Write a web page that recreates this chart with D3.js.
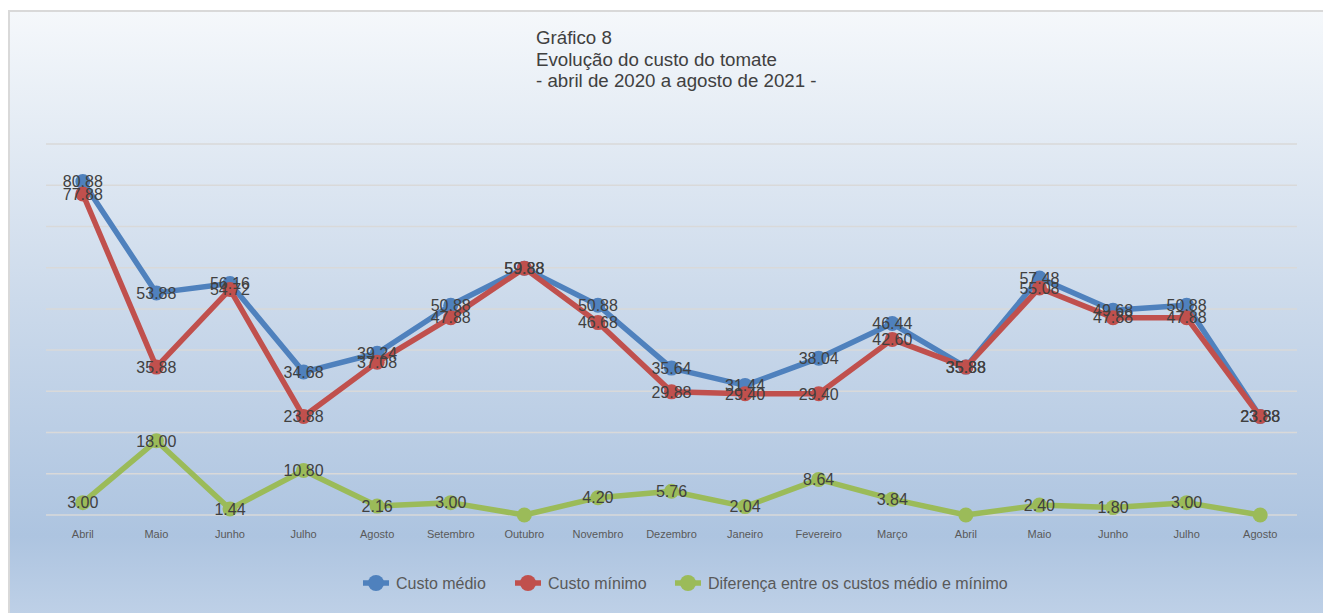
<!DOCTYPE html>
<html>
<head>
<meta charset="utf-8">
<script src="https://cdn.jsdelivr.net/npm/d3@7"></script>
<style>
  body { margin: 0; background: #fff; }
  svg { display: block; font-family: "Liberation Sans", Arial, sans-serif; }
</style>
</head>
<body>
<svg id="chart"></svg>
<script>
// month labels, april 2020 to august 2021
const months = ['Abril', 'Maio', 'Junho', 'Julho', 'Agosto', 'Setembro', 'Outubro', 'Novembro',
  'Dezembro', 'Janeiro', 'Fevereiro', 'Março', 'Abril', 'Maio', 'Junho', 'Julho', 'Agosto'];
const custoMedio = [80.88, 53.88, 56.16, 34.68, 39.24, 50.88, 59.88, 50.88, 35.64, 31.44, 38.04, 46.44, 35.88, 57.48, 49.68, 50.88, 23.88];
const custoMinimo = [77.88, 35.88, 54.72, 23.88, 37.08, 47.88, 59.88, 46.68, 29.88, 29.40, 29.40, 42.60, 35.88, 55.08, 47.88, 47.88, 23.88];
const diferenca = [3.00, 18.00, 1.44, 10.80, 2.16, 3.00, 0, 4.20, 5.76, 2.04, 8.64, 3.84, 0, 2.40, 1.80, 3.00, 0];
const yTicks = [0, 10, 20, 30, 40, 50, 60, 70, 80, 90];
const titleLines = ['Gráfico 8', 'Evolução do custo do tomate', '- abril de 2020 a agosto de 2021 -'];

const series = [
  { name: 'Custo médio', values: custoMedio, color: '#4f81bd' },
  { name: 'Custo mínimo', values: custoMinimo, color: '#c0504d' },
  { name: 'Diferença entre os custos médio e mínimo', values: diferenca, color: '#9bbb59' }
];

const width = 1323, height = 613;
const margin = { top: 144, right: 26, bottom: 98, left: 46 };

const svg = d3.select('#chart').attr('width', width).attr('height', height);

// background gradient
const defs = svg.append('defs');
const grad = defs.append('linearGradient').attr('id', 'bg')
  .attr('x1', 0).attr('y1', 0).attr('x2', 0).attr('y2', 1);
grad.append('stop').attr('offset', '0%').attr('stop-color', '#f5f8fb');
grad.append('stop').attr('offset', '45%').attr('stop-color', '#ccdaeb');
grad.append('stop').attr('offset', '82%').attr('stop-color', '#adc4e0');
grad.append('stop').attr('offset', '100%').attr('stop-color', '#c6d6ea');

svg.append('rect')
  .attr('x', 9).attr('y', 11)
  .attr('width', 1400).attr('height', 640)
  .attr('fill', 'url(#bg)')
  .attr('stroke', '#d9d9d9')
  .attr('stroke-width', 2);

// title
svg.append('text')
  .attr('x', 536).attr('y', 44)
  .attr('font-size', 18.7)
  .attr('fill', '#404040')
  .selectAll('tspan')
  .data(titleLines)
  .join('tspan')
  .attr('x', 536)
  .attr('dy', (d, i) => i === 0 ? 0 : 21.5)
  .text(d => d);

const x = d3.scaleBand()
  .domain(d3.range(months.length))
  .range([margin.left, width - margin.right]);

const y = d3.scaleLinear()
  .domain([0, 90])
  .range([height - margin.bottom, margin.top]);

// gridlines
svg.append('g')
  .selectAll('line')
  .data(yTicks)
  .join('line')
  .attr('x1', margin.left).attr('x2', width - margin.right)
  .attr('y1', d => y(d)).attr('y2', d => y(d))
  .attr('stroke', '#d9d9d9')
  .attr('stroke-width', 1.5);

// category axis
const xAxis = svg.append('g')
  .attr('transform', `translate(0,${height - margin.bottom})`)
  .call(d3.axisBottom(x).tickSize(0).tickPadding(15).tickFormat(i => months[i]));
xAxis.select('.domain').remove();
xAxis.selectAll('text')
  .attr('font-size', 11)
  .attr('font-family', '"Liberation Sans", Arial, sans-serif')
  .attr('fill', '#595959');

const cx = i => x(i) + x.bandwidth() / 2;
const line = d3.line().x((d, i) => cx(i)).y(d => y(d));

series.forEach(s => {
  const g = svg.append('g');
  g.append('path')
    .datum(s.values)
    .attr('d', line)
    .attr('fill', 'none')
    .attr('stroke', s.color)
    .attr('stroke-width', 5.5)
    .attr('stroke-linejoin', 'round');
  g.selectAll('circle')
    .data(s.values)
    .join('circle')
    .attr('cx', (d, i) => cx(i))
    .attr('cy', d => y(d))
    .attr('r', 7.5)
    .attr('fill', s.color);
});

// data labels on top
series.forEach(s => {
  svg.append('g')
    .selectAll('text')
    .data(s.values.map((v, i) => ({ v, i })).filter(d => d.v !== 0))
    .join('text')
    .attr('x', d => cx(d.i))
    .attr('y', d => y(d.v))
    .attr('dy', '0.36em')
    .attr('text-anchor', 'middle')
    .attr('font-size', 16)
    .attr('fill', '#404040')
    .text(d => d.v.toFixed(2));
});

// legend
const legendX = [376, 528, 688];
const legend = svg.append('g')
  .selectAll('g')
  .data(series)
  .join('g')
  .attr('transform', (d, i) => `translate(${legendX[i]},583)`);
legend.append('line')
  .attr('x1', -13).attr('x2', 13)
  .attr('stroke', d => d.color)
  .attr('stroke-width', 5.5);
legend.append('circle')
  .attr('r', 8)
  .attr('fill', d => d.color);
legend.append('text')
  .attr('x', 20)
  .attr('dy', '0.36em')
  .attr('font-size', 16)
  .attr('fill', '#595959')
  .text(d => d.name);
</script>
</body>
</html>
